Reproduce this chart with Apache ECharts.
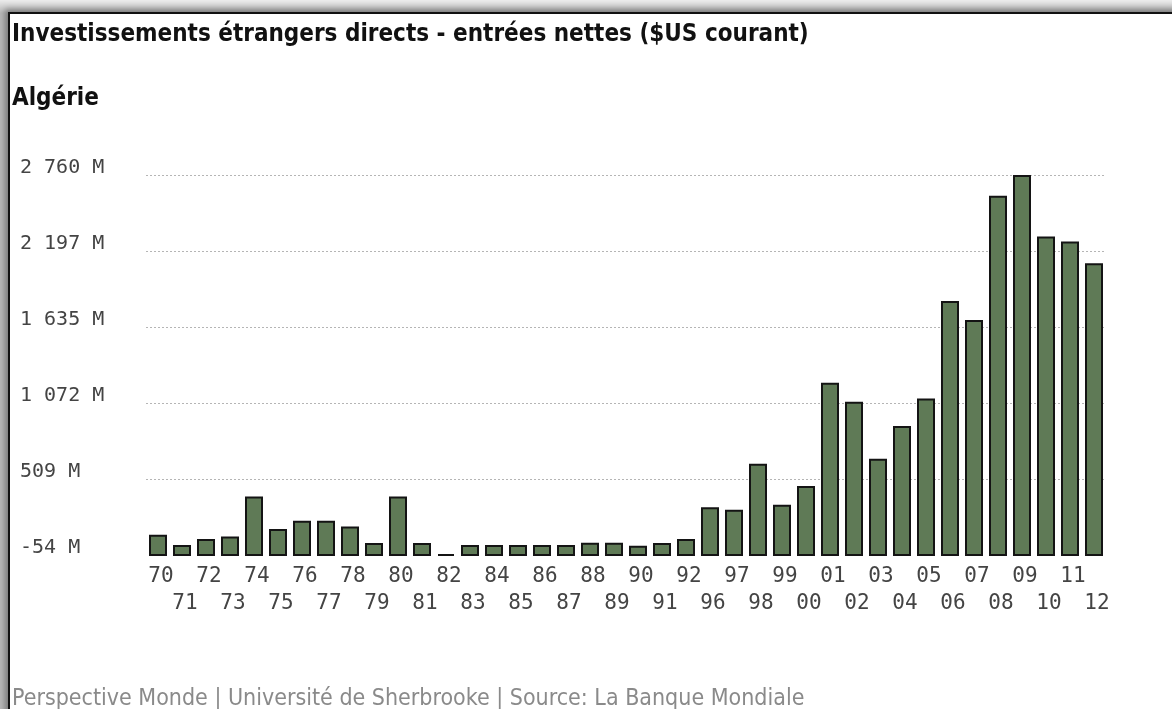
<!DOCTYPE html>
<html>
<head>
<meta charset="utf-8">
<script src="https://cdn.jsdelivr.net/npm/echarts@6/dist/echarts.min.js"></script>
<style>
  html, body { margin: 0; padding: 0; width: 1172px; height: 709px; overflow: hidden; }
  body { background: linear-gradient(#ececec, #b8b8b8 13px); }
  #frame {
    position: absolute; left: 8px; top: 12px; width: 1200px; height: 760px;
    background: #fff; border: 2px solid #111; box-shadow: -3px -3px 6px rgba(0,0,0,0.35);
  }
  #main { position: absolute; left: 0; top: 0; width: 1172px; height: 709px; }
</style>
</head>
<body>
<div id="frame"></div>
<div id="main"></div>
<script>
// IDE entrées nettes, Algérie, millions de $US courants
var years = ['70','71','72','73','74','75','76','77','78','79','80','81','82','83','84','85',
    '86','87','88','89','90','91','92','96','97','98','99','00','01','02','03','04','05','06',
    '07','08','09','10','11','12'];
var values = [89, 13, 57, 75, 372, 132, 193, 193, 149, 28, 372, 28, -54, 13, 13, 13,
    13, 13, 30, 30, 8, 28, 57, 293, 273, 615, 310, 449, 1214, 1073, 652, 895, 1098, 1820,
    1679, 2600, 2754, 2298, 2261, 2100];
// graduations de l'axe vertical
var yTicks = [-54, 509, 1072, 1635, 2197, 2760];
var yMin = -54, yStep = 563;

function fmtM(v) {
    var s = String(Math.abs(v)).replace(/\B(?=(\d{3})+(?!\d))/g, ' ');
    return (v < 0 ? '-' : '') + s + ' M';
}

var chart = echarts.init(document.getElementById('main'));

var option = {
    backgroundColor: 'transparent',
    animation: false,
    title: [{
        text: 'Investissements étrangers directs - entrées nettes ($US courant)',
        left: 12, top: 23, padding: 0,
        textStyle: { fontFamily: 'DejaVu Sans Condensed', fontWeight: 'bold', fontSize: 24, color: '#111' }
    }, {
        text: 'Algérie',
        left: 12, top: 87, padding: 0,
        textStyle: { fontFamily: 'DejaVu Sans Condensed', fontWeight: 'bold', fontSize: 24, color: '#111' }
    }, {
        text: 'Perspective Monde | Université de Sherbrooke | Source: La Banque Mondiale',
        left: 12, top: 688, padding: 0,
        textStyle: { fontFamily: 'DejaVu Sans Condensed', fontWeight: 'normal', fontSize: 23, color: '#8a8a8a' }
    }],
    grid: { left: 146, top: 175, width: 960, bottom: 154 },
    xAxis: {
        type: 'category',
        data: years,
        axisLine: { show: false },
        axisTick: { show: false },
        axisLabel: {
            interval: 0,
            margin: 8,
            padding: [0, 0, 0, 6],
            fontFamily: 'DejaVu Sans Mono',
            fontSize: 21,
            lineHeight: 27,
            color: '#444',
            formatter: function (v, i) { return i % 2 ? '\n' + v : v; }
        }
    },
    yAxis: {
        type: 'value',
        min: yMin,
        max: yMin + 5 * yStep,
        interval: yStep,
        axisLine: { show: false },
        axisTick: { show: false },
        splitLine: { showMinLine: false, lineStyle: { type: [2, 2], color: '#b5b5b5', width: 1 } },
        axisLabel: {
            align: 'left',
            verticalAlign: 'bottom',
            lineHeight: 15,
            margin: 126,
            fontFamily: 'DejaVu Sans Mono',
            fontSize: 20,
            color: '#444',
            formatter: function (v) {
                var i = Math.round((v - yMin) / yStep);
                return fmtM(yTicks[i]);
            }
        }
    },
    series: [{
        type: 'custom',
        data: values.map(function (v, i) { return [i, v]; }),
        renderItem: function (params, api) {
            var top = api.coord([api.value(0), api.value(1)]);
            var base = api.coord([api.value(0), yMin]);
            var w = api.size([1, 0])[0] * 16 / 24;
            return {
                type: 'rect',
                shape: { x: top[0] - w / 2, y: top[1], width: w, height: base[1] - top[1] },
                style: { fill: '#5f7a56', stroke: '#141414', lineWidth: 2 }
            };
        }
    }]
};
chart.setOption(option);
</script>
</body>
</html>
